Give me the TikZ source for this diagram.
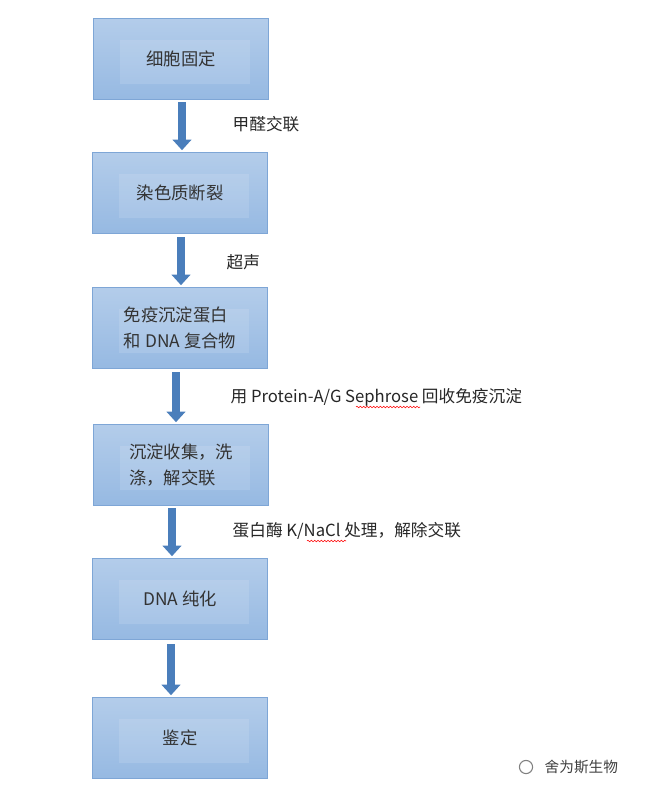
\documentclass[tikz,border=0pt]{standalone}
\usepackage{fontspec}
\setmainfont{Carlito}
\newfontfamily\cjk{Noto Sans CJK SC}
\usetikzlibrary{arrows.meta,decorations.pathmorphing}
\definecolor{boxblue}{RGB}{150,185,226}
\definecolor{boxedge}{RGB}{126,166,214}
\definecolor{arrblue}{RGB}{74,126,187}
\tikzset{
	stage/.style={
		draw=boxedge, line width=1.2pt, minimum width=131pt, minimum height=61pt,
		top color=boxblue!72, bottom color=boxblue, inner sep=0pt, align=left,
		font=\fontsize{13}{20}\selectfont\cjk, text=black!80,
		path picture={\fill[white, opacity=0.12] ([xshift=20pt,yshift=-16pt]path picture bounding box.north west)
			rectangle ([xshift=-14pt,yshift=12pt]path picture bounding box.south east);}},
	flow/.style={draw=arrblue, line width=6pt, -{Triangle[width=14pt,length=8pt]}, shorten >=1pt},
	note/.style={anchor=west, font=\fontsize{12.5}{15}\selectfont\cjk, text=black!85},
	spell/.style={draw=red, thin, decorate, decoration={snake, amplitude=0.6pt, segment length=2.5pt}},
}
\begin{document}
\begin{tikzpicture}[x=0.75pt,y=-0.75pt]
\useasboundingbox (0,0) rectangle (645,796);
\node[stage] (s1) at (181,59) {细胞固定};
\node[stage] (s2) at (180,193) {染色质断裂};
\node[stage] (s3) at (180,328) {免疫沉淀蛋白\\和 DNA 复合物};
\node[stage] (s4) at (181,465) {沉淀收集，洗\\涤，解交联};
\node[stage] (s5) at (180,599) {DNA 纯化};
\node[stage] (s6) at (180,738) {鉴定};
\draw[flow] (182,102) -- (s2.north-|182,0);
\draw[flow] (181,237) -- (s3.north-|181,0);
\draw[flow] (176,372) -- (s4.north-|176,0);
\draw[flow] (172,508) -- (s5.north-|172,0);
\draw[flow] (171,644) -- (s6.north-|171,0);
\node[note] (n1) at (228,124) {甲醛交联};
\node[note] (n2) at (222,262) {超声};
\node[note] (n3) at (226,397) {用 Protein-A/G Sephrose 回收免疫沉淀};
\node[note] (n4) at (228,531) {蛋白酶 K/NaCl 处理，解除交联};
\draw[spell] (356,407) -- (420,407);
\draw[spell] (307,541) -- (346,541);
\node[note, font=\fontsize{11}{13}\selectfont\cjk, text=black!75] (wm) at (540,767) {舍为斯生物};
\node[draw=gray, circle, inner sep=3.5pt, thick] (ic) at (526,767) {};
\end{tikzpicture}
\end{document}
